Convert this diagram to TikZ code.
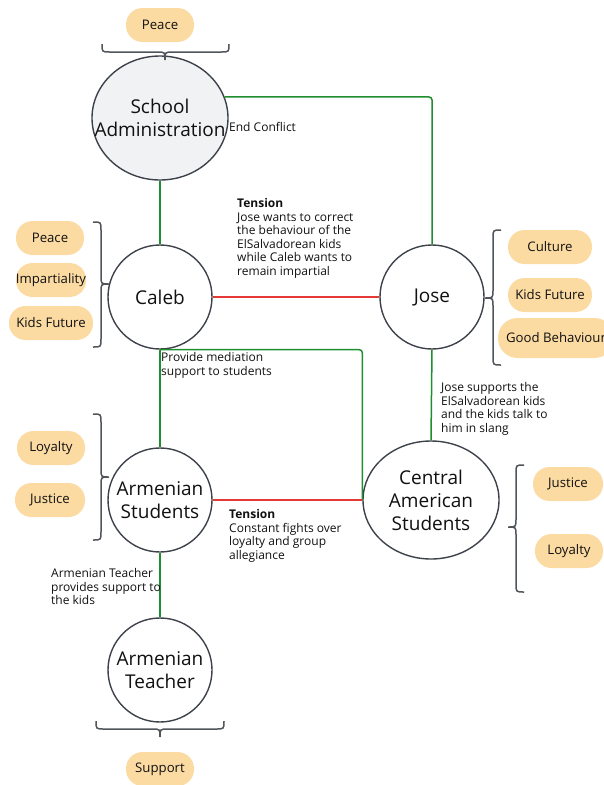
\documentclass[tikz,border=0pt]{standalone}
\usepackage{fontspec}
\setmainfont{Open Sans}
\usetikzlibrary{shapes.geometric}
\definecolor{grn}{HTML}{1E8E2E}
\definecolor{rd}{HTML}{E53935}
\definecolor{stk}{HTML}{3D424A}
\definecolor{pillc}{HTML}{FCDBA3}
\definecolor{safill}{HTML}{F1F2F4}
\definecolor{txt}{HTML}{111111}
\newcommand\BrR[4]{\draw[brc] (#1-8,#2) .. controls (#1,#2) .. (#1,#2+8) -- (#1,#3-8) .. controls (#1,#3) .. (#1+8,#3) .. controls (#1,#3) .. (#1,#3+8) -- (#1,#4-8) .. controls (#1,#4) .. (#1-8,#4);}
\newcommand\BrL[4]{\draw[brc] (#1+8,#2) .. controls (#1,#2) .. (#1,#2+8) -- (#1,#3-8) .. controls (#1,#3) .. (#1-8,#3) .. controls (#1,#3) .. (#1,#3+8) -- (#1,#4-8) .. controls (#1,#4) .. (#1+8,#4);}
\newcommand\BrD[4]{\draw[brc] (#2,#1-8) .. controls (#2,#1) .. (#2+8,#1) -- (#3-8,#1) .. controls (#3,#1) .. (#3,#1+8) .. controls (#3,#1) .. (#3+8,#1) -- (#4-8,#1) .. controls (#4,#1) .. (#4,#1-8);}
\tikzset{
  ent/.style={circle, draw=stk, line width=1.4pt, fill=white, minimum size=104pt, inner sep=0pt},
  entell/.style={ellipse, draw=stk, line width=1.4pt, fill=white, inner sep=0pt},
  big/.style={font=\fontsize{19}{23}\selectfont, text=txt, align=center},
  pill/.style={rectangle, rounded corners=16.5pt, fill=pillc, minimum height=34pt, inner sep=0pt, font=\fontsize{13.2}{15}\selectfont, text=txt},
  lbl/.style={anchor=north west, inner sep=0pt, align=left, font=\fontsize{12}{13.5}\selectfont, text=txt},
  gl/.style={draw=grn, line width=1.5pt, rounded corners=3pt},
  rl/.style={draw=rd, line width=1.5pt},
  brc/.style={draw=stk!90, line width=1.5pt},
}
\begin{document}
\begin{tikzpicture}[x=1pt,y=-1pt]
\useasboundingbox (0,0) rectangle (604,785);
\node[entell, fill=safill, minimum width=136pt, minimum height=124pt, label={[big]center:School\\Administration}] (sa) at (160,118) {};
\node[ent, label={[big]center:Caleb}] (caleb) at (160,297) {};
\node[ent, label={[big]center:Jose}] (jose) at (432,297) {};
\node[ent, label={[big]center:Armenian\\Students}] (as) at (160,500) {};
\node[entell, minimum width=136pt, minimum height=118pt, label={[big]center:Central\\American\\Students}] (ca) at (431,500) {};
\node[ent, label={[big]center:Armenian\\Teacher}] (at) at (160,670) {};
\draw[gl] (sa.18) -| (jose.north);
\draw[gl] (sa.south) -- (caleb.north);
\draw[rl] (caleb.east) -- (jose.west);
\draw[gl] (caleb.south) -| (ca.west);
\draw[gl] (caleb.south) -- (as.north);
\draw[gl] (jose.south) -- (ca.north);
\draw[rl] (as.east) -- (ca.west);
\draw[gl] (as.south) -- (at.north);
% pills
\node[pill, minimum width=68pt] (p1) at (160,25) {Peace};
\node[pill, minimum width=68pt] (p2) at (50,238) {Peace};
\node[pill, minimum width=70pt] (p3) at (51,280) {Impartiality};
\node[pill, minimum width=84pt] (p4) at (51,323) {Kids Future};
\node[pill, minimum width=84pt] (p5) at (550,247) {Culture};
\node[pill, minimum width=84pt] (p6) at (550,295) {Kids Future};
\node[pill, minimum width=116pt, minimum height=40pt, rounded corners=19.5pt] (p7) at (556,338) {Good Behaviour};
\node[pill, minimum width=68pt] (p8) at (51,448) {Loyalty};
\node[pill, minimum width=70pt] (p9) at (50,500) {Justice};
\node[pill, minimum width=70pt] (p10) at (568,484) {Justice};
\node[pill, minimum width=68pt] (p11) at (569,551) {Loyalty};
\node[pill, minimum width=68pt] (p12) at (160,769) {Support};
% braces
\BrD{52}{102}{165}{229}
\BrR{101}{222}{284}{347}
\BrL{493}{230}{298}{365}
\BrR{101}{414}{477}{540}
\BrL{516}{465}{527}{592}
\BrD{729}{96}{160}{224}
% labels
\node[lbl] (l1) at (229,122.5) {End Conflict};
\node[lbl] (l2) at (237,198.5) {\textbf{Tension}\\Jose wants to correct\\the behaviour of the\\ElSalvadorean kids\\while Caleb wants to\\remain impartial};
\node[lbl] (l3) at (161,352.5) {Provide mediation\\support to students};
\node[lbl] (l4) at (441,382.5) {Jose supports the\\ElSalvadorean kids\\and the kids talk to\\him in slang};
\node[lbl] (l5) at (229,509.5) {\textbf{Tension}\\Constant fights over\\loyalty and group\\allegiance};
\node[lbl] (l6) at (51,568.5) {Armenian Teacher\\provides support to\\the kids};
\end{tikzpicture}
\end{document}
